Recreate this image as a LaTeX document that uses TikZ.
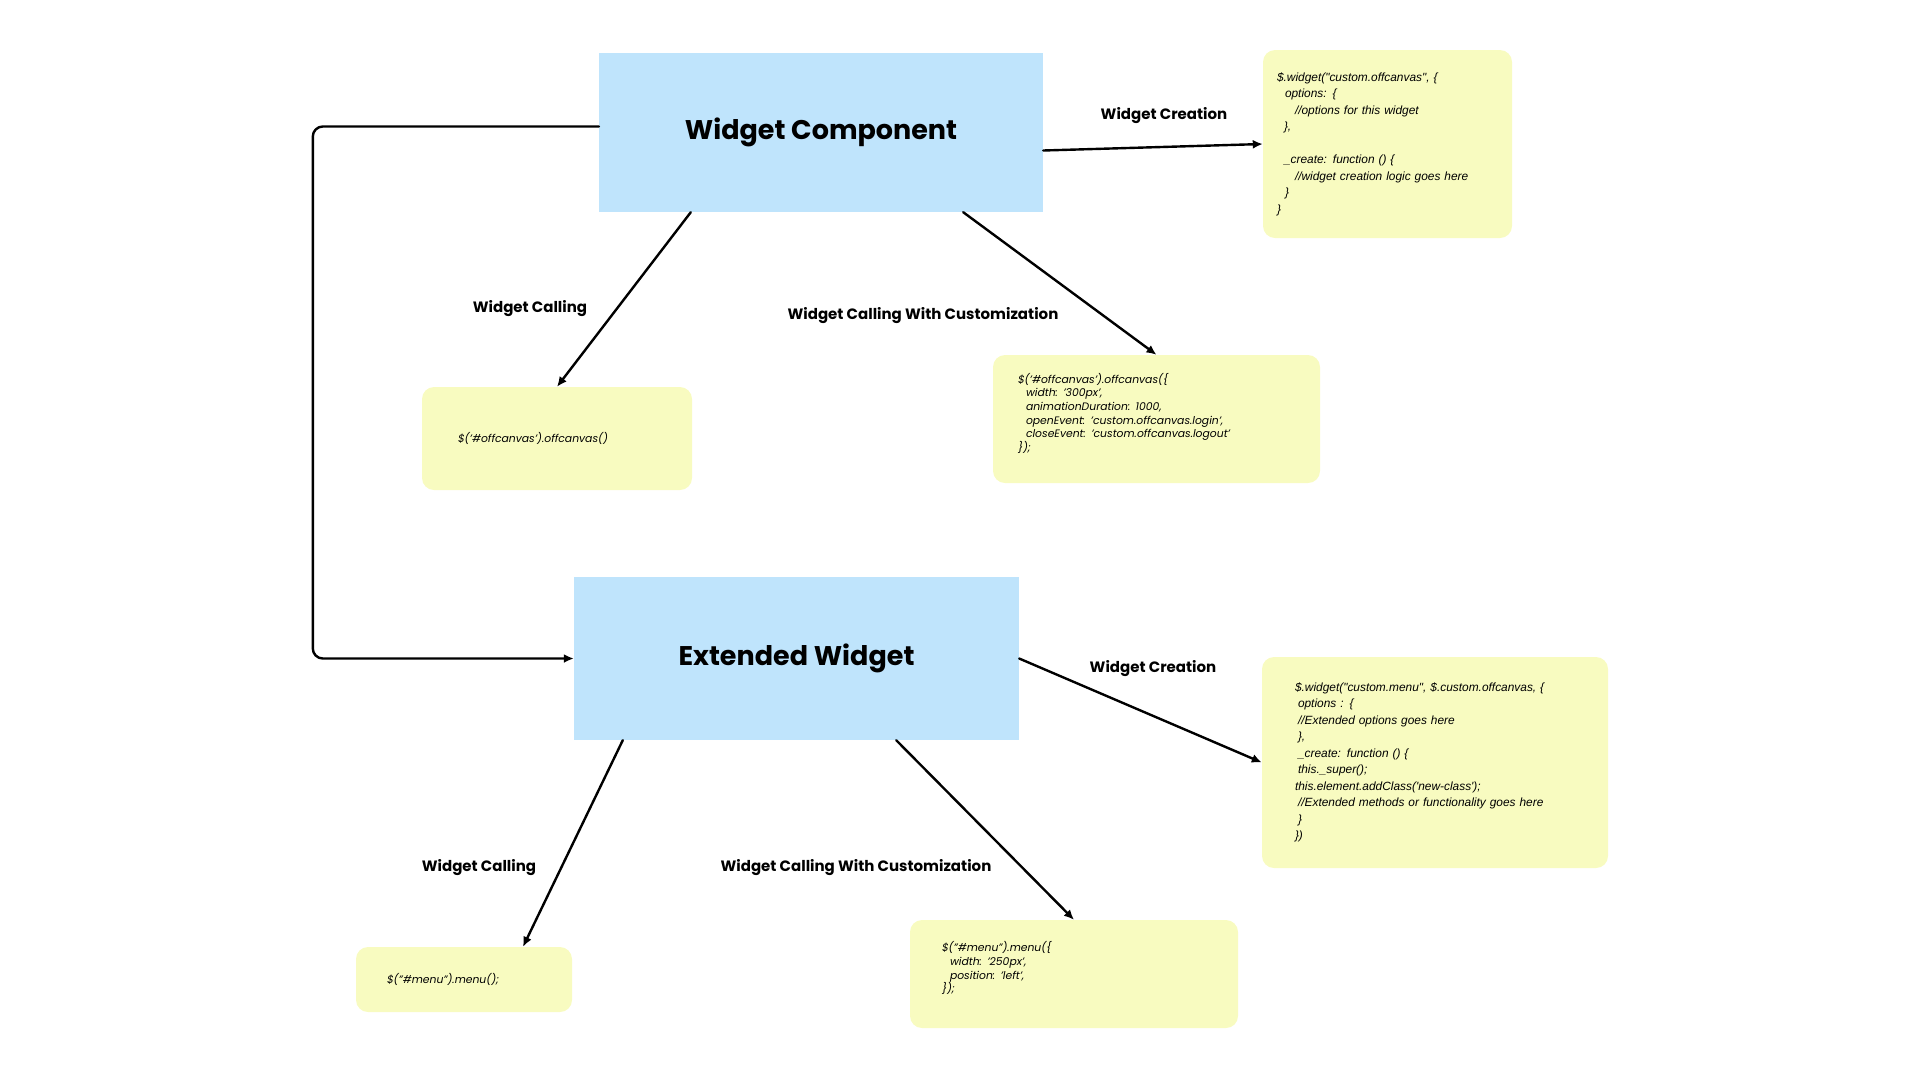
\documentclass[tikz,border=0pt]{standalone}
\usepackage{fontspec}
\setmainfont{Poppins}
\newfontfamily\arialfont{Liberation Sans}
\usetikzlibrary{arrows.meta}
\usetikzlibrary{positioning}

\newcommand{\ind}[1]{\hspace*{#1pt}}

\begin{document}
\begin{tikzpicture}[x=1pt, y=-1pt, line join=round, line cap=round,
  widget/.style={fill=WidgetBlue, inner sep=0pt, font=\fontsize{27}{32}\selectfont\bfseries},
  code/.style={fill=CodeYellow, rounded corners=12pt, align=left, inner ysep=0pt},
  jsfont/.style={font=\arialfont\itshape\fontsize{11.9}{16.5}\selectfont},
  dmfont/.style={font=\itshape\fontsize{10.8}{13.6}\selectfont},
  conn/.style={line width=2.4pt, -{Latex[length=10pt,width=9pt]}},
  lbl/.style={font=\fontsize{15}{18}\selectfont\bfseries}]

\definecolor{WidgetBlue}{HTML}{BFE4FC}
\definecolor{CodeYellow}{HTML}{F8FBC0}

\useasboundingbox (0,0) rectangle (1920,1080);

% main boxes
\node[widget, minimum width=444pt, minimum height=159pt] (wc) at (821,132.5) {Widget Component};
\node[widget, minimum width=445pt, minimum height=163pt] (ext) at (796.5,658.5) {Extended Widget};

% code boxes
\node[code, jsfont, minimum height=188pt, inner xsep=14pt, text width=221pt] (create) at (1387.5,144) {%
\$.widget("custom.offcanvas", \{\\
\ind{8}options: \{\\
\ind{18}//options for this widget\\
\ind{7}\},\\[16.5pt]
\ind{7}\_create: function () \{\\
\ind{18}//widget creation logic goes here\\
\ind{8}\}\\
\}};

\node[code, dmfont, minimum height=103pt, inner xsep=36pt, text width=198pt] (call) at (557,438.5) {%
\$('\#offcanvas').offcanvas()};

\node[code, dmfont, minimum height=128pt, inner xsep=25pt, text width=277pt] (callcust) at (1156.5,419) {%
\$('\#offcanvas').offcanvas(\{\\
\ind{8}width: '300px',\\
\ind{8}animationDuration: 1000,\\
\ind{8}openEvent: 'custom.offcanvas.login',\\
\ind{8}closeEvent: 'custom.offcanvas.logout'\\
\});\\ \mbox{}};

\node[code, jsfont, minimum height=211pt, inner xsep=33pt, text width=280pt] (extcreate) at (1435,762.5) {%
\$.widget("custom.menu", \$.custom.offcanvas, \{\\
\ind{3}options : \{\\
\ind{3}//Extended options goes here\\
\ind{3}\},\\
\ind{3}\_create: function () \{\\
\ind{3}this.\_super();\\
this.element.addClass('new-class');\\
\ind{3}//Extended methods or functionality goes here\\
\ind{3}\}\\
\})};

\node[code, dmfont, minimum height=65pt, inner xsep=31pt, text width=154pt] (extcall) at (464,979.5) {%
\$("\#menu").menu();};

\node[code, dmfont, minimum height=108pt, inner xsep=32pt, text width=264pt] (extcust) at (1074,974) {%
\$("\#menu").menu(\{\\
\ind{8}width: '250px',\\
\ind{8}position: 'left',\\
\});\\ \mbox{}};

% labels
\node[lbl] (lcreate) at (1164,116) {Widget Creation};
\node[lbl] (lcall) at (530,309) {Widget Calling};
\node[lbl] (lcallcust) at (923,316) {Widget Calling With Customization};
\node[lbl] (lextcreate) at (1153,669) {Widget Creation};
\node[lbl] (lextcall) at (479,868) {Widget Calling};
\node[lbl] (lextcust) at (856,868) {Widget Calling With Customization};

% connectors
\draw[conn] ([yshift=-18pt]wc.east) -- (create.west);
\draw[conn] ([xshift=92pt]wc.south west) -- (call.north);
\draw[conn] ([xshift=-80pt]wc.south east) -- (callcust.north);
\draw[conn, rounded corners=10pt] ([yshift=6pt]wc.west) -- ++(-286,0) |- (ext.west);
\draw[conn] (ext.east) -- (extcreate.west);
\draw[conn] ([xshift=49pt]ext.south west) -- ([xshift=59pt]extcall.north);
\draw[conn] ([xshift=-123pt]ext.south east) -- (extcust.north);

\end{tikzpicture}
\end{document}
